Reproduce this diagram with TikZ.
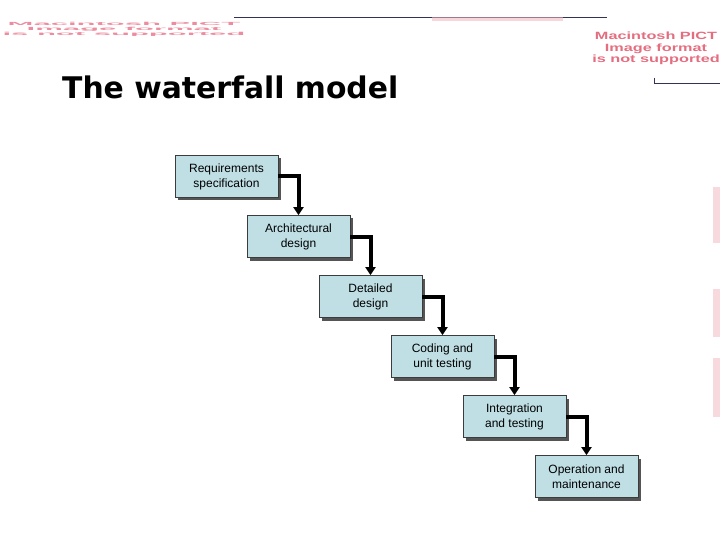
\documentclass[tikz,border=0pt]{standalone}
\usepackage{fontspec}
\setmainfont{Liberation Sans}
\newfontfamily\titlefont{DejaVu Sans}
\usetikzlibrary{arrows.meta,shadows}
\definecolor{boxfill}{RGB}{191,223,229}
\definecolor{boxline}{RGB}{60,60,60}
\definecolor{shadowc}{RGB}{85,85,85}
\definecolor{navy}{RGB}{50,50,85}
\definecolor{pictred}{RGB}{228,110,128}
\definecolor{pictpale}{RGB}{236,140,158}
\definecolor{pinkbar}{RGB}{242,180,190}
\tikzset{
  stagebox/.style={draw=boxline, line width=0.8pt, fill=boxfill,
    minimum width=103pt, minimum height=42pt, inner sep=0pt, align=center,
    font=\fontsize{12}{15}\selectfont,
    drop shadow={shadow xshift=3pt, shadow yshift=-3pt, fill=shadowc, opacity=1}},
  flow/.style={line width=4pt, draw=black, -{Triangle[length=8pt,width=10pt]}},
  navyline/.style={draw=navy, line width=1.4pt}
}
\begin{document}
\begin{tikzpicture}[x=1pt,y=-1pt]
\useasboundingbox (0,0) rectangle (720,540);
% top decorations
\draw[navyline] (234,17.5) -- (607,17.5);
\fill[pinkbar, opacity=0.55] (432,17) rectangle (563,21.5);
\node[text=pictpale, inner sep=0pt] (pictleft) at (124,29)
  {\scalebox{3.1}[0.45]{\begin{tabular}{@{}c@{}}\fontsize{10}{11}\selectfont\bfseries Macintosh PICT\\[-1pt]\fontsize{10}{11}\selectfont\bfseries Image format\\[-1pt]\fontsize{10}{11}\selectfont\bfseries is not supported\end{tabular}}};
\node[text=pictred, inner sep=0pt] (pictright) at (656,49)
  {\scalebox{1.55}[1]{\begin{tabular}{@{}c@{}}\fontsize{10.5}{11}\selectfont\bfseries Macintosh PICT\\[-0.5pt]\fontsize{10.5}{11}\selectfont\bfseries Image format\\[-0.5pt]\fontsize{10.5}{11}\selectfont\bfseries is not supported\end{tabular}}};
\draw[draw=navy, line width=1pt] (654.5,78) -- (654.5,83.5) -- (720,83.5);
% right edge marks
\fill[pinkbar, opacity=0.5] (713,187) rectangle (720,243);
\fill[pinkbar, opacity=0.5] (713,289) rectangle (720,337);
\fill[pinkbar, opacity=0.5] (713,358) rectangle (720,417);
% title
\node[anchor=base west, inner sep=0pt] (title) at (62,98.5)
  {\resizebox{336pt}{!}{\titlefont\bfseries\fontsize{29}{34}\selectfont The waterfall model}};
% stages
\node[stagebox] (b1) at (226.5,176.5) {Requirements\\specification};
\node[stagebox] (b2) at (298.5,236.5) {Architectural\\design};
\node[stagebox] (b3) at (370.5,296.5) {Detailed\\design};
\node[stagebox] (b4) at (442.5,356.5) {Coding and\\unit testing};
\node[stagebox] (b5) at (514.5,416.5) {Integration\\and testing};
\node[stagebox] (b6) at (586.5,476.5) {Operation and\\maintenance};
% connectors
\draw[flow] (b1.east) -| (b2.north);
\draw[flow] (b2.east) -| (b3.north);
\draw[flow] (b3.east) -| (b4.north);
\draw[flow] (b4.east) -| (b5.north);
\draw[flow] (b5.east) -| (b6.north);
\end{tikzpicture}
\end{document}
